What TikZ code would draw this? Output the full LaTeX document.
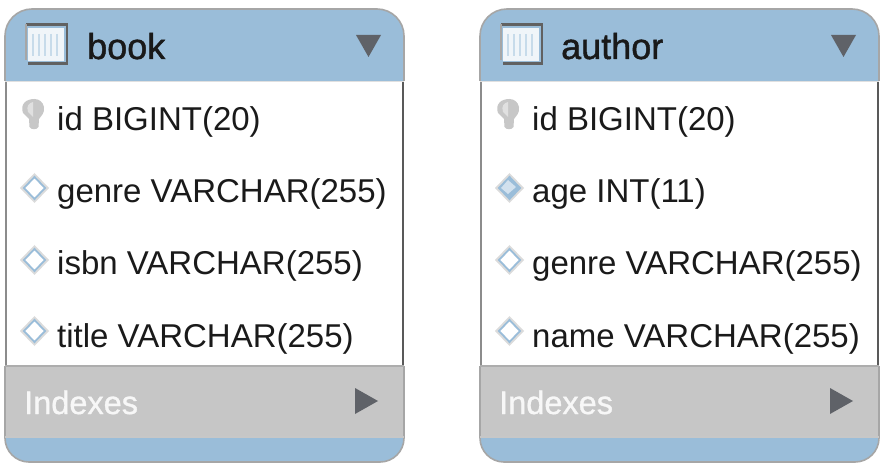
\documentclass[tikz,border=0pt]{standalone}
\usepackage{fontspec}
\setmainfont{Liberation Sans}
\newfontfamily\hdfont[FakeBold=1.3]{Liberation Sans}
\newfontfamily\idxfont[FakeBold=1]{Liberation Sans}
\definecolor{hdblue}{HTML}{9ABDD9}
\definecolor{idxgrey}{HTML}{C6C6C6}
\definecolor{edge}{HTML}{A6A6A6}
\definecolor{tri}{HTML}{5F6268}
\definecolor{txt}{HTML}{1A1A1A}
\tikzset{
  x=1pt,y=-1pt,
  field/.style={anchor=base west,inner sep=0pt,text=txt,font=\fontsize{33}{36}\selectfont},
  title/.style={anchor=base west,inner sep=0pt,text=black!90,font=\hdfont\fontsize{36}{40}\selectfont},
  idx/.style={anchor=base west,inner sep=0pt,text=white!97!black,font=\idxfont\fontsize{32.5}{36}\selectfont},
  tripic/.style={fill=tri,draw=none},
}
\newcommand{\tablebox}[4]{%
\begin{scope}[shift={(#1,0)}]
  \path[fill=white] (5,78) rectangle (403,368);
  \path[fill=hdblue,rounded corners=27pt] (5,81) [sharp corners] -- (5,60) [rounded corners=27pt] -- (5,9) -- (404,9) [sharp corners] -- (404,60) -- (404,81) -- cycle;
  \path[fill=idxgrey] (5,366) rectangle (404,437);
  \path[fill=hdblue,rounded corners=24pt] (5,420) [sharp corners] -- (5,437) -- (404,437) -- (404,420) [rounded corners=24pt] -- (404,462) -- (5,462) [sharp corners] -- (5,437) -- cycle;
  \path[fill=idxgrey] (5,420) rectangle (404,437);
  \draw[edge,line width=1.6pt,rounded corners=27pt] (5,81) -- (5,9) -- (404,9) -- (404,81);
  \draw[edge,line width=1.6pt,rounded corners=24pt] (404,366) -- (404,462) -- (5,462) -- (5,366);
  \draw[black!65,line width=1.2pt] (403,82) -- (403,366);
  \draw[black!45,line width=1.2pt] (6,82) -- (6,366);
  \draw[black!12,line width=1.4pt] (5,81.5) -- (404,81.5);
  \draw[black!32,line width=1.6pt] (5,366) -- (404,366);
  \draw[black!22,line width=1.2pt] (5,437) -- (404,437);
  % table icon
  \path[fill=white!85!hdblue] (28,28) rectangle (64,61);
  \foreach \q in {33,39,45,51,57}{\draw[hdblue!55!white,line width=1.4pt] (\q,34) -- (\q,56);}
  \draw[black!62,line width=2.6pt] (26,24.5) -- (67,24.5) -- (67,63.5) -- (28,63.5);
  \draw[black!35,line width=1.5pt] (26,24.5) -- (26,60);
  % triangles
  \path[tripic] (356,35) -- (381,35) -- (368.5,57) -- cycle;
  \path[tripic] (355,388) -- (355,414) -- (378,401) -- cycle;
  % key
  \path[fill=black!22] (34.5,99) .. controls (26,99) and (20,104) .. (23,113) .. controls (25,116) and (28,117) .. (29,119) -- (29.5,127) .. controls (31,130) and (37,130) .. (38.5,127) -- (39,119) .. controls (41,116) and (45,113) .. (44,107) .. controls (43,102) and (39,99) .. (34.5,99) -- cycle;
  \path[fill=black!12] (33,102) .. controls (29,103) and (26,106) .. (28,112) -- (33,117) -- cycle;
  % text
  \node[title] (name#1) at (#2) {#3};
  \node[field] (f1#1) at (57,131) {id BIGINT(20)};
  \node[idx] (ix#1) at (24,414) {Indexes};
  #4
\end{scope}}
\newcommand{\outlinediamond}[1]{%
  \path[fill=black!14] (34.5,#1-15) -- (49,#1) -- (34.5,#1+15) -- (20,#1) -- cycle;
  \path[fill=white,draw=hdblue,line width=1.8pt] (34.5,#1-11) -- (45,#1) -- (34.5,#1+11) -- (24,#1) -- cycle;
}
\newcommand{\filleddiamond}[1]{%
  \path[fill=black!14] (34.5,#1-15) -- (49,#1) -- (34.5,#1+15) -- (20,#1) -- cycle;
  \path[fill=hdblue,draw=hdblue,line width=1.8pt] (34.5,#1-11) -- (45,#1) -- (34.5,#1+11) -- (24,#1) -- cycle;
  \path[fill=white!55!hdblue] (33,#1-8) -- (41,#1-1) -- (33,#1+6) -- (26,#1) -- cycle;
}
\begin{document}
\begin{tikzpicture}
\useasboundingbox[fill=white] (0,0) rectangle (884,465);
\tablebox{0}{87,59}{book}{%
  \outlinediamond{188}
  \outlinediamond{260}
  \outlinediamond{331}
  \node[field] (a2) at (57,203) {genre VARCHAR(255)};
  \node[field] (a3) at (57,275) {isbn VARCHAR(255)};
  \node[field] (a4) at (57,347) {title VARCHAR(255)};
}
\tablebox{475}{86,59}{author}{%
  \filleddiamond{188}
  \outlinediamond{260}
  \outlinediamond{331}
  \node[field] (b2) at (57,203) {age INT(11)};
  \node[field] (b3) at (57,275) {genre VARCHAR(255)};
  \node[field] (b4) at (57,347) {name VARCHAR(255)};
}
\end{tikzpicture}
\end{document}
